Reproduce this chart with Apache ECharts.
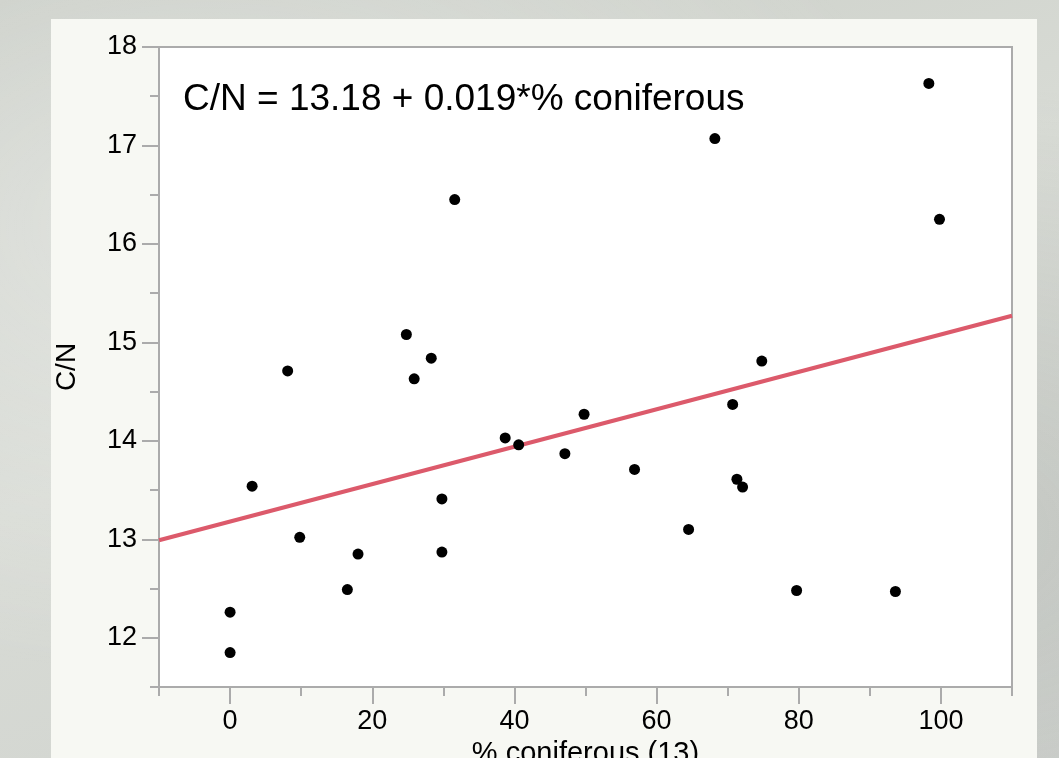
<!DOCTYPE html>
<html>
<head>
<meta charset="utf-8">
<title>C/N vs % coniferous</title>
<script src="https://cdn.jsdelivr.net/npm/echarts@6/dist/echarts.min.js"></script>
<style>
  html, body { margin: 0; padding: 0; width: 1059px; height: 758px; overflow: hidden; }
  body {
    background:
      radial-gradient(ellipse at 20% 30%, rgba(255,255,255,0.35), rgba(255,255,255,0) 60%),
      radial-gradient(ellipse at 85% 70%, rgba(150,155,150,0.25), rgba(150,155,150,0) 60%),
      linear-gradient(160deg, #c9cdc6 0%, #d8dbd5 45%, #cfd2ce 100%);
  }
  #panel { position: absolute; left: 51px; top: 19px; width: 986px; height: 760px; background: #f7f8f3; }
  #main { position: absolute; left: 0; top: 0; width: 1059px; height: 758px; }
</style>
</head>
<body>
<div id="panel"></div>
<div id="main"></div>
<script>
// values
const coniferous = [0, 0, 3.1, 8.1, 9.8, 16.5, 18.0, 24.8, 25.9, 28.3, 29.8, 29.8, 31.6, 38.7,
  40.6, 47.1, 49.8, 56.9, 64.5, 68.2, 70.7, 71.3, 72.1, 74.8, 79.7, 93.6, 98.3, 99.8];
const cnRatio = [12.26, 11.85, 13.54, 14.71, 13.02, 12.49, 12.85, 15.08, 14.63, 14.84, 13.41, 12.87, 16.45, 14.03,
  13.96, 13.87, 14.27, 13.71, 13.10, 17.07, 14.37, 13.61, 13.53, 14.81, 12.48, 12.47, 17.63, 16.25];
const xTicks = [0, 20, 40, 60, 80, 100];
const yTicks = [12, 13, 14, 15, 16, 17, 18];
// fit printed on the chart: C/N = 13.18 + 0.019*% coniferous
const fitIntercept = 13.18;
const fitSlope = 0.019;
const fitX = [-10, 110];

const font = 'Liberation Sans, Arial, Helvetica, sans-serif';
const axisGray = '#ababab';

const points = coniferous.map((x, i) => [x, cnRatio[i]]);
const fitLine = fitX.map(x => [x, fitIntercept + fitSlope * x]);

const chart = echarts.init(document.getElementById('main'), null, { renderer: 'canvas' });

const option = {
  animation: false,
  backgroundColor: 'transparent',
  grid: {
    left: 159, top: 47, right: 47, bottom: 71,
    outerBoundsMode: 'none', containLabel: false,
    show: true, backgroundColor: '#ffffff', borderColor: axisGray, borderWidth: 2
  },
  xAxis: [
    {
      // minor ticks every 10
      type: 'value', position: 'bottom', min: -10, max: 110, interval: 10,
      axisLine: { show: true, onZero: false, lineStyle: { color: axisGray, width: 2 } },
      axisTick: { show: true, length: 9, lineStyle: { color: axisGray, width: 2 } },
      axisLabel: { show: false },
      splitLine: { show: false }
    },
    {
      type: 'value', position: 'bottom', min: -10, max: 110,
      axisLine: { show: false, onZero: false },
      axisTick: { show: true, customValues: xTicks, length: 17, lineStyle: { color: axisGray, width: 2 } },
      axisLabel: { customValues: xTicks, color: '#000', fontSize: 27, fontFamily: font, margin: 21 },
      splitLine: { show: false },
      name: '% coniferous (13)', nameLocation: 'middle', nameGap: 50,
      nameTextStyle: { color: '#000', fontSize: 29, fontFamily: font }
    }
  ],
  yAxis: [
    {
      // minor ticks every 0.5
      type: 'value', position: 'left', min: 11.5, max: 18, interval: 0.5,
      axisLine: { show: true, onZero: false, lineStyle: { color: axisGray, width: 2 } },
      axisTick: { show: true, length: 9, lineStyle: { color: axisGray, width: 2 } },
      axisLabel: { show: false },
      splitLine: { show: false }
    },
    {
      type: 'value', position: 'left', min: 11.5, max: 18,
      axisLine: { show: false, onZero: false },
      axisTick: { show: true, customValues: yTicks, length: 17, lineStyle: { color: axisGray, width: 2 } },
      axisLabel: { customValues: yTicks, color: '#000', fontSize: 27, fontFamily: font, margin: 22 },
      splitLine: { show: false },
      name: 'C/N', nameLocation: 'middle', nameRotate: 90, nameGap: 78,
      nameTextStyle: { color: '#000', fontSize: 28, fontFamily: font }
    }
  ],
  graphic: [
    {
      type: 'text', left: 183, top: 81,
      style: { text: 'C/N = 13.18 + 0.019*% coniferous', fill: '#000', font: '37px ' + font }
    }
  ],
  series: [
    {
      type: 'line', xAxisIndex: 1, yAxisIndex: 1,
      data: fitLine, symbol: 'none', z: 2,
      lineStyle: { color: '#dc5a6b', width: 4 }
    },
    {
      type: 'scatter', xAxisIndex: 1, yAxisIndex: 1,
      data: points, symbolSize: 11, z: 3,
      itemStyle: { color: '#000', opacity: 1 }
    }
  ]
};

chart.setOption(option);
</script>
</body>
</html>
